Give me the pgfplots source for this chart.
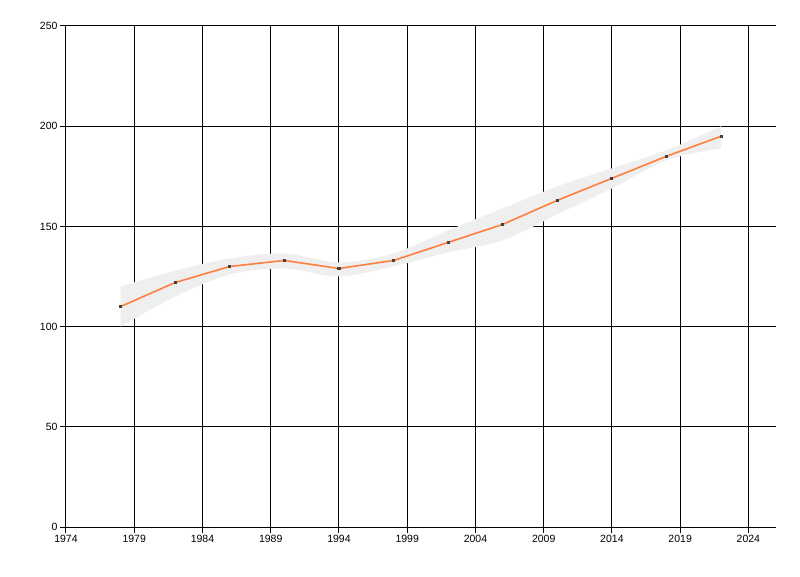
\documentclass[border=0pt]{standalone}
\usepackage{fontspec}
\setmainfont{Liberation Sans}
\usepackage{pgfplots}
\pgfplotsset{compat=1.18}
\usepgfplotslibrary{fillbetween}
\definecolor{band}{HTML}{EFEFEF}
\definecolor{trend}{HTML}{FF7F3F}
\definecolor{dot}{HTML}{404040}
\begin{document}
\begin{tikzpicture}[x=1pt,y=1pt]
\begin{axis}[
    scale only axis,
    width=709.7pt, height=501pt,
    xmin=1974, xmax=2026,
    ymin=0, ymax=250,
    xtick={1974,1979,...,2024},
    ytick={0,50,...,250},
    axis x line*=bottom,
    axis y line*=left,
    axis line style={black, line width=1pt},
    grid=major,
    major grid style={black, line width=1pt},
    tick style={black, line width=1pt},
    tick align=outside,
    major tick length=6pt,
    ticklabel style={font=\fontsize{10.5}{12}\selectfont},
    /pgf/number format/assume math mode=true,
    /pgf/number format/set thousands separator={},
    xticklabel style={yshift=1pt},
    yticklabel style={xshift=1pt},
    clip=false,
]
\addplot[name path=U, draw=none, smooth] coordinates {
    (1978,120) (1982,128) (1986,134) (1990,136.5) (1994,132) (1998,136.5)
    (2002,148) (2006,159) (2010,170) (2014,179) (2018,188) (2022,200)
};
\addplot[name path=L, draw=none, smooth] coordinates {
    (1978,100) (1982,115) (1986,126) (1990,129) (1994,125) (1998,130)
    (2002,137) (2006,143) (2010,156) (2014,169) (2018,183) (2022,189)
};
\addplot[band, draw=none] fill between[of=U and L];
\addplot[trend, line width=1.6pt, mark=square*, mark size=0.75pt,
    mark options={dot, draw=dot}] coordinates {
    (1978,110) (1982,122) (1986,130) (1990,133) (1994,129) (1998,133)
    (2002,142) (2006,151) (2010,163) (2014,174) (2018,185) (2022,195)
};
\end{axis}
\path (current axis.south west) ++(-66pt,-49pt) rectangle ++(800pt,576pt);
\end{tikzpicture}
\end{document}
